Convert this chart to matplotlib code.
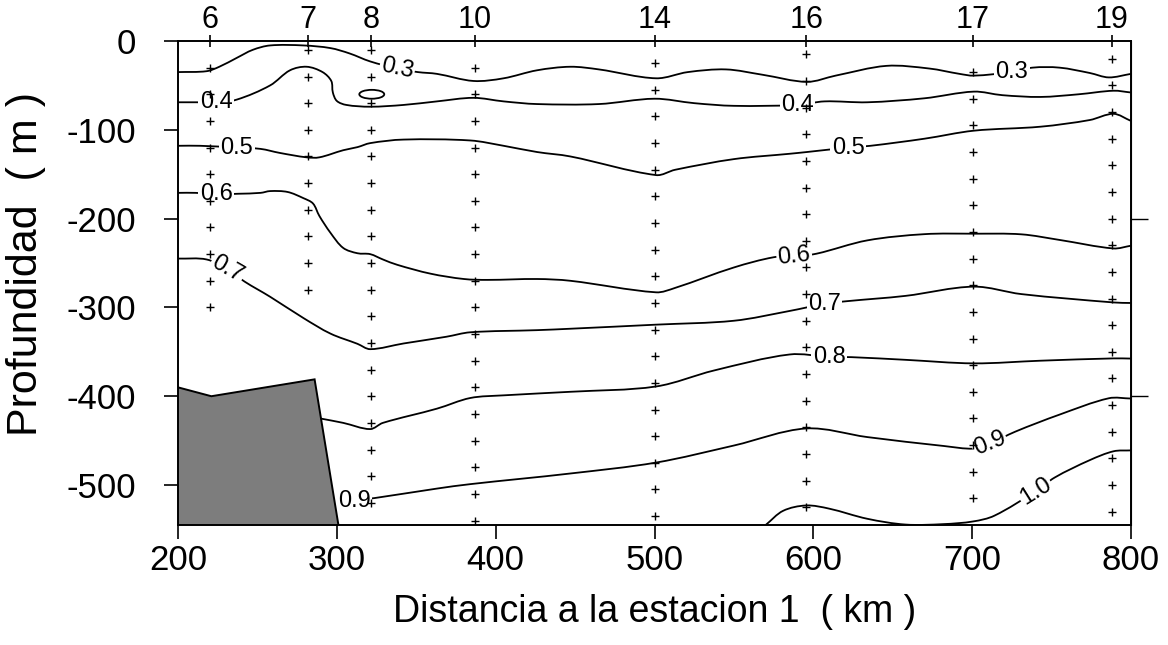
import matplotlib
matplotlib.use("Agg")
import matplotlib.pyplot as plt
from matplotlib.patches import Ellipse, Polygon, PathPatch
from matplotlib.path import Path
import numpy as np

plt.rcParams['font.family'] = ['Liberation Sans', 'DejaVu Sans']
plt.rcParams['axes.unicode_minus'] = False

# Stations along the section: number, distance (km), first and last sampled depth (m)
station_ids = [6, 7, 8, 10, 14, 16, 17, 19]
station_km = [220, 282, 321.5, 387, 500, 595.5, 700.5, 788]
station_top = [30, 10, 10, 30, 25, 15, 35, 20]
station_bottom = [300, 280, 520, 540, 535, 525, 515, 530]
sample_step = 30

# Isolines (distance km, depth m)
iso_03_x = [200, 218, 226, 237, 247, 258, 279, 296, 308, 321, 338, 351, 363, 386, 405, 426,
            447, 465, 501, 521, 545, 568, 596, 614, 646, 673, 692, 701, 725, 738, 755, 774, 786, 800]
iso_03_z = [-35, -34, -29, -19, -10, -5, -5, -8, -14, -23, -31, -35, -37, -45, -42, -33,
            -29, -32, -42, -35, -32, -38, -46, -39, -28, -31, -37, -39, -35, -30, -30, -36, -41, -37]

iso_04_x = [200, 212, 224, 237, 258, 270.5, 281, 291, 296.5, 297.5, 300, 306, 321, 342, 363, 386,
            405, 426, 465, 500, 525, 550, 590, 607, 634, 670, 701, 719, 743, 767, 789, 800]
iso_04_z = [-69, -69, -69, -66, -50, -33, -29, -35, -45, -58, -67.5, -72, -74, -72, -68, -64,
            -68, -71, -71, -65, -70, -73, -72, -68, -69, -64.5, -57, -61, -63, -60, -56, -58]

iso_05_x = [200, 214, 237, 252, 264, 281, 289, 304, 313, 321, 342, 384, 405, 426, 447, 501,
            513, 550, 585, 596, 622, 636, 670, 701, 743, 774, 789, 800]
iso_05_z = [-118, -118, -120, -121.5, -126, -131, -131, -123, -119.5, -115, -111, -112, -118, -125, -130, -151,
            -145, -133, -127, -125, -120, -118, -110, -101, -96.5, -89, -82, -90]

iso_06_x = [200, 211, 224, 238, 252, 258, 269, 279, 285, 289, 296, 304, 313, 321, 329, 338, 359,
            380, 395, 426, 447, 501, 513, 550, 575, 588, 602, 634, 670, 701, 731, 755, 789, 800]
iso_06_z = [-171, -171, -172.5, -172, -171, -169, -170, -177, -183, -197, -216, -233, -239, -240, -246, -252, -262,
            -268, -269, -268, -270, -283, -278, -255, -243.5, -242.5, -239.5, -224.5, -217.5, -217, -217.7, -224, -233.6, -230.5]

iso_07_x = [200, 218, 231, 242, 258, 279, 296, 313, 321, 342, 369, 384, 426, 447, 501, 550,
            585, 607, 621, 658, 701, 731, 789, 800]
iso_07_z = [-245, -246, -257, -271, -288, -312, -329.5, -341, -347, -340.6, -333, -328, -325.6, -324, -319.4, -315,
            -304, -296, -293, -287, -276.6, -285, -294.4, -295]

iso_08_x = [289.4, 304, 321, 329, 363, 384, 405, 447, 501, 537.5, 585, 610, 624, 658, 701, 743, 789, 800]
iso_08_z = [-425, -430, -437, -430, -414, -402, -399, -395, -389, -371, -353, -355.6, -356, -359, -363, -360, -357.4, -357.6]

iso_09_x = [310, 324, 363, 384, 447, 501, 550, 595.5, 634, 682, 701, 711, 727, 755, 786, 800]
iso_09_z = [-517.6, -514.6, -504, -499, -487, -474.7, -455.5, -436.3, -446, -456, -459, -453.5, -440, -420.7, -402.3, -402.6]

iso_10_x = [570, 581, 595.5, 610, 634, 658, 682, 700.6, 714, 740, 752, 774, 789, 800]
iso_10_z = [-545, -529, -523, -526.6, -538, -544.5, -544, -541, -534.5, -507, -491.5, -472, -462, -461]

# Inline labels: text, distance, depth, rotation
label_text = ['0.3', '0.3', '0.4', '0.4', '0.5', '0.5', '0.6', '0.6', '0.7', '0.7', '0.8', '0.9', '0.9', '1.0']
label_x = [338, 725, 224, 590, 237, 622, 224, 588, 231, 607, 610, 311, 711, 740]
label_z = [-31, -35, -69, -72, -120, -120, -172.5, -242.5, -257, -296, -355.6, -517.6, -453.5, -507]
label_rot = [-12, 0, 0, 0, 0, 0, 0, 6, -30, 0, 0, 0, 22, 32]

# Closed cell of the 0.4 isoline near station 8
cell_x, cell_z, cell_w, cell_h = 322, -60, 15.7, 10

# Sea floor (bathymetry) outline
floor_x = [200, 221, 286, 301, 200]
floor_z = [-390, -400, -381, -545, -545]

x_ticks = [200, 300, 400, 500, 600, 700, 800]
y_ticks = [0, -100, -200, -300, -400, -500]


def smooth_path(xs, zs, sx=1.59, sz=0.89):
    """Bezier path through every given point, chord-length Catmull-Rom tangents."""
    p = np.column_stack([xs, zs]).astype(float)
    q = p * [sx, sz]
    t = np.concatenate([[0.0], np.cumsum(np.hypot(*np.diff(q, axis=0).T))])
    n = len(p)
    m = np.zeros_like(p)
    for i in range(n):
        a, b = max(i - 1, 0), min(i + 1, n - 1)
        m[i] = (p[b] - p[a]) / (t[b] - t[a])
    verts = [p[0]]
    codes = [Path.MOVETO]
    for i in range(n - 1):
        h = t[i + 1] - t[i]
        verts += [p[i] + m[i] * h / 3.0, p[i + 1] - m[i + 1] * h / 3.0, p[i + 1]]
        codes += [Path.CURVE4] * 3
    return Path(verts, codes)


fig = plt.figure(figsize=(11.68, 6.45), dpi=100)
ax = fig.add_axes([178 / 1168, 1 - 525 / 645, (1131 - 178) / 1168, 484 / 645])
ax.set_xlim(200, 800)
ax.set_ylim(-545, 0)

for sp in ax.spines.values():
    sp.set_linewidth(1.4)

lines = [(iso_03_x, iso_03_z), (iso_04_x, iso_04_z), (iso_05_x, iso_05_z), (iso_06_x, iso_06_z),
         (iso_07_x, iso_07_z), (iso_08_x, iso_08_z), (iso_09_x, iso_09_z), (iso_10_x, iso_10_z)]
for xs, zs in lines:
    ax.add_patch(PathPatch(smooth_path(xs, zs), facecolor='none', edgecolor='black', lw=1.3, zorder=2))

ax.add_patch(Ellipse((cell_x, cell_z), cell_w, cell_h, facecolor='none', edgecolor='black', lw=1.3, zorder=2))

for s, x, z, r in zip(label_text, label_x, label_z, label_rot):
    ax.text(x, z, s, rotation=r, rotation_mode='anchor', ha='center', va='center', fontsize=17,
            bbox=dict(facecolor='white', edgecolor='none', pad=1.0), zorder=3)

ax.add_patch(Polygon(list(zip(floor_x, floor_z)), closed=True, facecolor='#7d7d7d',
                     edgecolor='black', lw=1.4, zorder=4))

for km, top, bot in zip(station_km, station_top, station_bottom):
    z = np.arange(top, bot + 1, sample_step)
    ax.plot(np.full(len(z), km), -z, ls='none', marker='+', ms=6, mew=1.0, color='black',
            zorder=5, clip_on=False)

ax.set_xticks(x_ticks)
ax.set_yticks(y_ticks)
ax.tick_params(axis='both', direction='out', length=10, width=1.2, labelsize=25)
ax.tick_params(axis='y', pad=20)
ax.tick_params(axis='x', pad=4)

top = ax.secondary_xaxis('top')
top.set_xticks(station_km)
top.set_xticklabels([str(s) for s in station_ids])
top.tick_params(direction='inout', length=8, width=1.2, labelsize=22, pad=0)
top.spines['top'].set_visible(False)

right = ax.secondary_yaxis('right')
right.set_yticks([-200, -400])
right.set_yticklabels([])
right.tick_params(direction='out', length=12, width=1.0)

ax.set_xlabel('Distancia a la estacion 1  ( km )', fontsize=27, labelpad=12)
ax.set_ylabel('Profundidad  ( m )', fontsize=31)
ax.yaxis.set_label_coords(-0.138, 0.54)

fig.savefig('out.png', dpi=100)
